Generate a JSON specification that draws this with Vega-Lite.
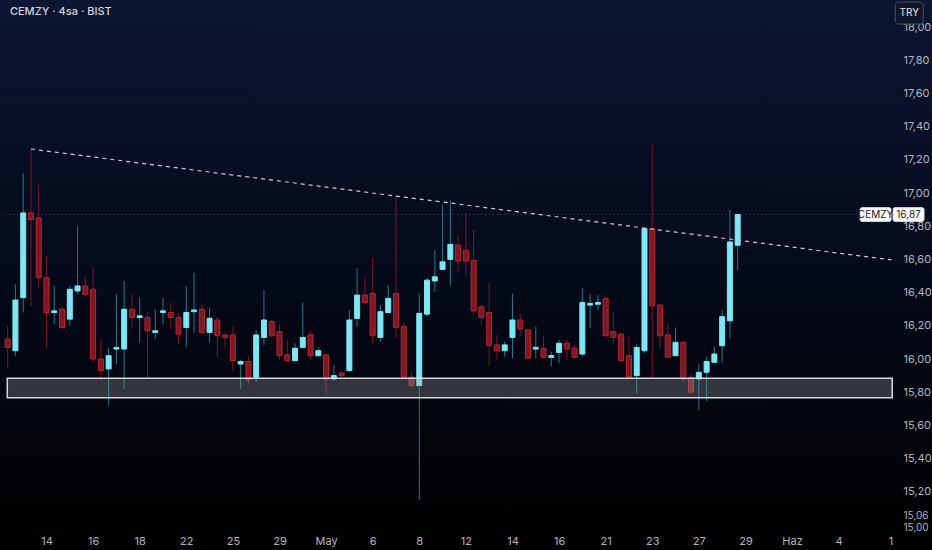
{
  "$schema": "https://vega.github.io/schema/vega-lite/v6.json",
  "width": 932,
  "height": 550,
  "autosize": "none",
  "padding": 0,
  "background": "#03060f",
  "config": {
    "view": {"stroke": null, "fill": {"gradient": "linear", "x1": 0, "y1": 0, "x2": 0, "y2": 1, "stops": [{"offset": 0, "color": "#0c1532"}, {"offset": 0.5, "color": "#050a1a"}, {"offset": 1, "color": "#000000"}]}},
    "font": "Inter"
  },
  "resolve": {"axis": {"x": "independent", "y": "independent"}},
  "datasets": {
    "candles": [
      {"i":1,"o":16.12,"h":16.20,"l":15.95,"c":16.07},
      {"i":2,"o":16.05,"h":16.45,"l":16.02,"c":16.355},
      {"i":3,"o":16.37,"h":17.12,"l":16.28,"c":16.88},
      {"i":4,"o":16.88,"h":17.265,"l":16.32,"c":16.84},
      {"i":5,"o":16.85,"h":17.05,"l":16.43,"c":16.49},
      {"i":6,"o":16.49,"h":16.62,"l":16.07,"c":16.28},
      {"i":7,"o":16.28,"h":16.44,"l":16.21,"c":16.29},
      {"i":8,"o":16.30,"h":16.32,"l":16.18,"c":16.19},
      {"i":9,"o":16.24,"h":16.44,"l":16.20,"c":16.42},
      {"i":10,"o":16.41,"h":16.80,"l":16.39,"c":16.44},
      {"i":11,"o":16.44,"h":16.50,"l":16.38,"c":16.39},
      {"i":12,"o":16.42,"h":16.55,"l":15.98,"c":16.00},
      {"i":13,"o":16.00,"h":16.12,"l":15.87,"c":15.93},
      {"i":14,"o":15.94,"h":16.07,"l":15.72,"c":16.02},
      {"i":15,"o":16.06,"h":16.39,"l":15.97,"c":16.07},
      {"i":16,"o":16.06,"h":16.47,"l":15.82,"c":16.30},
      {"i":17,"o":16.30,"h":16.39,"l":16.19,"c":16.25},
      {"i":18,"o":16.25,"h":16.37,"l":16.10,"c":16.26},
      {"i":19,"o":16.25,"h":16.28,"l":15.89,"c":16.17},
      {"i":20,"o":16.16,"h":16.30,"l":16.12,"c":16.17},
      {"i":21,"o":16.28,"h":16.37,"l":16.21,"c":16.29},
      {"i":22,"o":16.28,"h":16.34,"l":16.18,"c":16.25},
      {"i":23,"o":16.25,"h":16.28,"l":16.09,"c":16.15},
      {"i":24,"o":16.19,"h":16.44,"l":16.07,"c":16.28},
      {"i":25,"o":16.285,"h":16.52,"l":16.16,"c":16.295},
      {"i":26,"o":16.30,"h":16.33,"l":16.15,"c":16.16},
      {"i":27,"o":16.16,"h":16.31,"l":16.10,"c":16.245},
      {"i":28,"o":16.235,"h":16.255,"l":16.01,"c":16.14},
      {"i":29,"o":16.145,"h":16.155,"l":16.07,"c":16.13},
      {"i":30,"o":16.145,"h":16.20,"l":15.93,"c":15.99},
      {"i":31,"o":15.97,"h":15.995,"l":15.82,"c":15.985},
      {"i":32,"o":15.985,"h":16.015,"l":15.85,"c":15.875},
      {"i":33,"o":15.89,"h":16.175,"l":15.86,"c":16.145},
      {"i":34,"o":16.13,"h":16.415,"l":16.085,"c":16.235},
      {"i":35,"o":16.225,"h":16.235,"l":16.13,"c":16.14},
      {"i":36,"o":16.165,"h":16.21,"l":15.995,"c":16.02},
      {"i":37,"o":16.025,"h":16.115,"l":15.985,"c":15.99},
      {"i":38,"o":15.99,"h":16.095,"l":15.985,"c":16.065},
      {"i":39,"o":16.07,"h":16.34,"l":16.065,"c":16.13},
      {"i":40,"o":16.145,"h":16.17,"l":15.995,"c":16.02},
      {"i":41,"o":16.02,"h":16.07,"l":16.015,"c":16.05},
      {"i":42,"o":16.025,"h":16.025,"l":15.79,"c":15.88},
      {"i":43,"o":15.88,"h":15.965,"l":15.87,"c":15.90},
      {"i":44,"o":15.915,"h":15.925,"l":15.89,"c":15.90},
      {"i":45,"o":15.93,"h":16.295,"l":15.92,"c":16.235},
      {"i":46,"o":16.245,"h":16.545,"l":16.195,"c":16.385},
      {"i":47,"o":16.385,"h":16.495,"l":16.335,"c":16.34},
      {"i":48,"o":16.395,"h":16.61,"l":16.095,"c":16.14},
      {"i":49,"o":16.13,"h":16.325,"l":16.105,"c":16.285},
      {"i":50,"o":16.28,"h":16.445,"l":16.275,"c":16.365},
      {"i":51,"o":16.395,"h":16.99,"l":16.125,"c":16.19},
      {"i":52,"o":16.195,"h":16.22,"l":15.885,"c":15.89},
      {"i":53,"o":15.89,"h":15.925,"l":15.83,"c":15.84},
      {"i":54,"o":15.84,"h":16.395,"l":15.15,"c":16.275},
      {"i":55,"o":16.27,"h":16.49,"l":16.255,"c":16.475},
      {"i":56,"o":16.47,"h":16.655,"l":16.405,"c":16.495},
      {"i":57,"o":16.54,"h":16.93,"l":16.535,"c":16.585},
      {"i":58,"o":16.60,"h":16.955,"l":16.445,"c":16.69},
      {"i":59,"o":16.685,"h":16.74,"l":16.525,"c":16.59},
      {"i":60,"o":16.655,"h":16.88,"l":16.505,"c":16.59},
      {"i":61,"o":16.595,"h":16.775,"l":16.265,"c":16.29},
      {"i":62,"o":16.315,"h":16.325,"l":16.205,"c":16.25},
      {"i":63,"o":16.28,"h":16.465,"l":15.955,"c":16.08},
      {"i":64,"o":16.085,"h":16.145,"l":15.995,"c":16.05},
      {"i":65,"o":16.05,"h":16.105,"l":16.015,"c":16.085},
      {"i":66,"o":16.13,"h":16.395,"l":16.005,"c":16.235},
      {"i":67,"o":16.235,"h":16.275,"l":16.135,"c":16.18},
      {"i":68,"o":16.175,"h":16.185,"l":16.00,"c":16.005},
      {"i":69,"o":16.06,"h":16.195,"l":16.005,"c":16.07},
      {"i":70,"o":16.065,"h":16.135,"l":16.005,"c":16.01},
      {"i":71,"o":16.01,"h":16.045,"l":15.955,"c":16.02},
      {"i":72,"o":16.04,"h":16.115,"l":15.975,"c":16.095},
      {"i":73,"o":16.095,"h":16.115,"l":15.995,"c":16.06},
      {"i":74,"o":16.065,"h":16.085,"l":16.005,"c":16.01},
      {"i":75,"o":16.03,"h":16.425,"l":16.015,"c":16.34},
      {"i":76,"o":16.325,"h":16.39,"l":16.185,"c":16.335},
      {"i":77,"o":16.33,"h":16.385,"l":16.295,"c":16.34},
      {"i":78,"o":16.365,"h":16.385,"l":16.135,"c":16.14},
      {"i":79,"o":16.165,"h":16.285,"l":16.095,"c":16.13},
      {"i":80,"o":16.15,"h":16.155,"l":15.985,"c":15.99},
      {"i":81,"o":16.02,"h":16.14,"l":15.885,"c":15.89},
      {"i":82,"o":15.90,"h":16.09,"l":15.79,"c":16.07},
      {"i":83,"o":16.05,"h":16.795,"l":16.035,"c":16.785},
      {"i":84,"o":16.785,"h":17.29,"l":15.89,"c":16.32},
      {"i":85,"o":16.325,"h":16.335,"l":16.065,"c":16.14},
      {"i":86,"o":16.145,"h":16.21,"l":16.005,"c":16.01},
      {"i":87,"o":16.02,"h":16.19,"l":16.015,"c":16.10},
      {"i":88,"o":16.10,"h":16.105,"l":15.855,"c":15.88},
      {"i":89,"o":15.89,"h":15.915,"l":15.79,"c":15.80},
      {"i":90,"o":15.88,"h":15.97,"l":15.69,"c":15.92},
      {"i":91,"o":15.92,"h":16.015,"l":15.745,"c":15.985},
      {"i":92,"o":15.98,"h":16.075,"l":15.975,"c":16.03},
      {"i":93,"o":16.08,"h":16.295,"l":15.975,"c":16.255},
      {"i":94,"o":16.23,"h":16.90,"l":16.125,"c":16.705},
      {"i":95,"o":16.685,"h":16.87,"l":16.535,"c":16.87}
    ]
  },
  "layer": [
    {
      "data": {"values": [{"i": 0.656, "i2": 110.8, "p": 16.87}]},
      "mark": {"type": "rule", "color": "#3d4a5a", "strokeDash": [1, 3], "strokeWidth": 1},
      "encoding": {
        "x": {"field": "i", "type": "quantitative", "scale": {"domain": [0.656, 119.38], "nice": false, "zero": false}, "axis": null},
        "x2": {"field": "i2"},
        "y": {"field": "p", "type": "quantitative", "scale": {"domain": [14.8494, 18.1627], "nice": false, "zero": false}, "axis": null}
      }
    },
    {
      "data": {"name": "candles"},
      "mark": {"type": "rule", "strokeWidth": 1},
      "encoding": {
        "x": {"field": "i", "type": "quantitative", "scale": {"domain": [0.656, 119.38], "nice": false, "zero": false},
          "axis": {"orient": "bottom", "offset": -20, "title": null, "domain": false, "ticks": false, "grid": false,
            "values": [6,12,18,24,30,36,42,48,54,60,66,72,78,84,90,96,102,108,114.67],
            "labelExpr": "['14','16','18','22','25','29','May','6','8','12','14','16','21','23','27','29','Haz','4','1'][indexof([6,12,18,24,30,36,42,48,54,60,66,72,78,84,90,96,102,108,114.67], datum.value)]",
            "labelPadding": 5, "labelFontSize": 11, "labelColor": "#b2b5be", "labelFont": "Inter",
            "labelFontWeight": {"condition": {"test": "datum.label == 'May' || datum.label == 'Haz'", "value": "bold"}, "value": "normal"},
            "labelOverlap": false, "labelBound": false, "labelFlush": false}},
        "y": {"field": "l", "type": "quantitative", "scale": {"domain": [14.8494, 18.1627], "nice": false, "zero": false},
          "axis": {"orient": "right", "offset": -39, "title": null, "domain": false, "ticks": false, "grid": false,
            "values": [15, 15.06, 15.2, 15.4, 15.6, 15.8, 16, 16.2, 16.4, 16.6, 16.8, 17, 17.2, 17.4, 17.6, 17.8, 18],
            "labelExpr": "replace(format(datum.value, '.2f'), '.', ',')",
            "labelPadding": 10, "labelColor": "#b2b5be", "labelFont": "Inter",
            "labelFontSize": {"condition": {"test": "datum.value < 15.1", "value": 10}, "value": 11},
            "labelOffset": {"condition": {"test": "datum.value == 15", "value": 2}, "value": 0},
            "labelOverlap": false, "labelBound": false, "labelFlush": false}},
        "y2": {"field": "h"},
        "color": {"condition": {"test": "datum.c >= datum.o", "value": "#247a88"}, "value": "#7a1826"}
      }
    },
    {
      "data": {"name": "candles"},
      "mark": {"type": "bar", "size": 5, "strokeWidth": 1},
      "encoding": {
        "x": {"field": "i", "type": "quantitative", "scale": {"domain": [0.656, 119.38], "nice": false, "zero": false}, "axis": null},
        "y": {"field": "o", "type": "quantitative", "scale": {"domain": [14.8494, 18.1627], "nice": false, "zero": false}, "axis": null},
        "y2": {"field": "c"},
        "fill": {"condition": {"test": "datum.c >= datum.o", "value": "#7fe6f2"}, "value": "#7a1a26"},
        "stroke": {"condition": {"test": "datum.c >= datum.o", "value": "#7fe6f2"}, "value": "#c2202f"}
      }
    },
    {
      "data": {"values": [{"i": 4, "p": 17.265}, {"i": 114.8, "p": 16.597}]},
      "mark": {"type": "line", "color": "#c8ccd4", "strokeDash": [4, 4], "strokeWidth": 1.2},
      "encoding": {
        "x": {"field": "i", "type": "quantitative", "scale": {"domain": [0.656, 119.38], "nice": false, "zero": false}, "axis": null},
        "y": {"field": "p", "type": "quantitative", "scale": {"domain": [14.8494, 18.1627], "nice": false, "zero": false}, "axis": null}
      }
    },
    {
      "data": {"values": [{"i": 0.95, "i2": 114.9, "p": 15.767, "p2": 15.884}]},
      "mark": {"type": "rect", "fill": "#9ea1a8", "fillOpacity": 0.3, "stroke": "#d6d8dc", "strokeWidth": 1.5},
      "encoding": {
        "x": {"field": "i", "type": "quantitative", "scale": {"domain": [0.656, 119.38], "nice": false, "zero": false}, "axis": null},
        "x2": {"field": "i2"},
        "y": {"field": "p", "type": "quantitative", "scale": {"domain": [14.8494, 18.1627], "nice": false, "zero": false}, "axis": null},
        "y2": {"field": "p2"}
      }
    },
    {
      "data": {"values": [{"i": 112.76, "p": 16.828, "p2": 16.912}, {"i": 117.0, "p": 16.828, "p2": 16.912}]},
      "mark": {"type": "bar", "size": 31, "fill": "#ffffff", "stroke": "#d1d4dc", "strokeWidth": 1, "cornerRadius": 2},
      "encoding": {
        "x": {"field": "i", "type": "quantitative", "scale": {"domain": [0.656, 119.38], "nice": false, "zero": false}, "axis": null},
        "y": {"field": "p", "type": "quantitative", "scale": {"domain": [14.8494, 18.1627], "nice": false, "zero": false}, "axis": null},
        "y2": {"field": "p2"}
      }
    },
    {
      "data": {"values": [{"i": 117.1, "p": 18.018, "p2": 18.15}]},
      "mark": {"type": "bar", "size": 28, "fill": "#0f1629", "stroke": "#4a4e59", "strokeWidth": 1, "cornerRadius": 3},
      "encoding": {
        "x": {"field": "i", "type": "quantitative", "scale": {"domain": [0.656, 119.38], "nice": false, "zero": false}, "axis": null},
        "y": {"field": "p", "type": "quantitative", "scale": {"domain": [14.8494, 18.1627], "nice": false, "zero": false}, "axis": null},
        "y2": {"field": "p2"}
      }
    },
    {
      "data": {"values": [
        {"i": 112.76, "p": 16.87, "t": "CEMZY", "k": "box"},
        {"i": 117.0, "p": 16.87, "t": "16,87", "k": "box"},
        {"i": 117.1, "p": 18.084, "t": "TRY", "k": "try"}
      ]},
      "mark": {"type": "text", "align": "center", "baseline": "middle", "fontSize": 10, "font": "Inter"},
      "encoding": {
        "x": {"field": "i", "type": "quantitative", "scale": {"domain": [0.656, 119.38], "nice": false, "zero": false}, "axis": null},
        "y": {"field": "p", "type": "quantitative", "scale": {"domain": [14.8494, 18.1627], "nice": false, "zero": false}, "axis": null},
        "text": {"field": "t"},
        "color": {"condition": {"test": "datum.k == 'try'", "value": "#e8e9ec"}, "value": "#131722"}
      }
    },
    {
      "data": {"values": [{"i": 1.29, "p": 18.09, "t": "CEMZY · 4sa · BIST"}]},
      "mark": {"type": "text", "align": "left", "baseline": "middle", "fontSize": 11, "font": "Inter", "fontWeight": 500, "color": "#d1d4dc"},
      "encoding": {
        "x": {"field": "i", "type": "quantitative", "scale": {"domain": [0.656, 119.38], "nice": false, "zero": false}, "axis": null},
        "y": {"field": "p", "type": "quantitative", "scale": {"domain": [14.8494, 18.1627], "nice": false, "zero": false}, "axis": null},
        "text": {"field": "t"}
      }
    }
  ]
}
